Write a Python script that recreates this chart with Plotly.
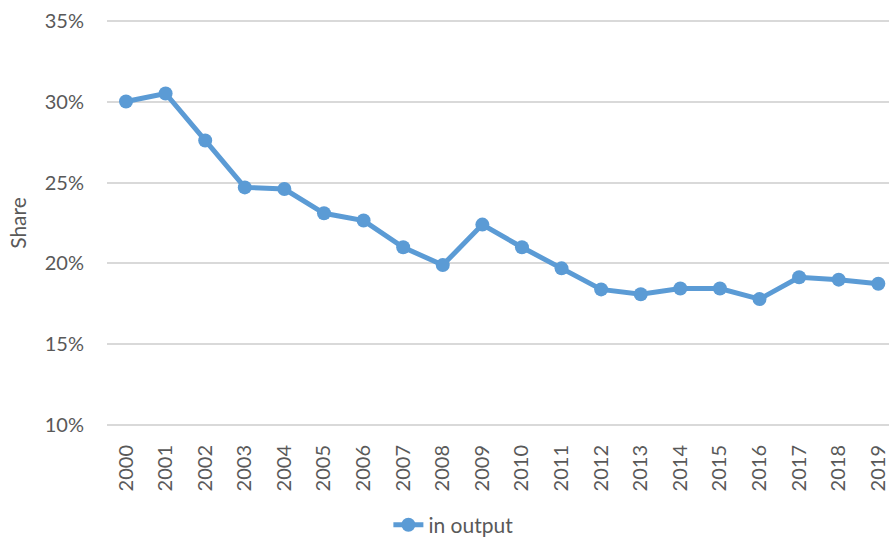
import plotly.graph_objects as go

years = [str(y) for y in range(2000, 2020)]
share = [0.300, 0.305, 0.276, 0.247, 0.246, 0.231, 0.2265, 0.210, 0.199, 0.224,
         0.210, 0.197, 0.184, 0.181, 0.1845, 0.1845, 0.178, 0.1915, 0.190, 0.1875]
y_ticks = [0.10, 0.15, 0.20, 0.25, 0.30, 0.35]
y_labels = ["10%", "15%", "20%", "25%", "30%", "35%"]

blue = "#5B9BD5"
grey = "#595959"
font_family = "Lato, 'Open Sans', sans-serif"

fig = go.Figure()
fig.add_trace(go.Scatter(
    x=list(range(len(years))), y=share, mode="lines+markers", name="in output",
    line=dict(color=blue, width=5),
    marker=dict(color=blue, size=14),
))

fig.update_layout(
    width=889, height=543,
    margin=dict(l=107, r=0, t=19, b=116, autoexpand=False),
    paper_bgcolor="white", plot_bgcolor="white",
    font=dict(family=font_family, color=grey, size=20),
    showlegend=True,
    legend=dict(orientation="h", xref="container", yref="container",
                x=0.51, xanchor="center", y=0.033, yanchor="middle",
                font=dict(size=21, color=grey)),
    xaxis=dict(
        tickmode="array", tickvals=list(range(len(years))), ticktext=years,
        range=[-0.48, 19.27], tickangle=-90, showgrid=False, zeroline=False,
        showline=False, ticks="", tickfont=dict(size=20, color=grey),
        ticklabelstandoff=13, automargin=False,
    ),
    yaxis=dict(
        range=[0.099, 0.351], tickvals=y_ticks, ticktext=y_labels,
        showgrid=True, gridcolor="#D9D9D9", gridwidth=1.5, zeroline=False,
        showline=False, ticks="", tickfont=dict(size=20, color=grey),
        ticklabelstandoff=22,
        title=dict(text="Share", font=dict(size=21, color=grey), standoff=12),
        automargin=False,
    ),
)

fig.write_html("out.html", config={"displayModeBar": False},
               post_script="document.body.style.margin='0';document.body.style.overflow='hidden';")
